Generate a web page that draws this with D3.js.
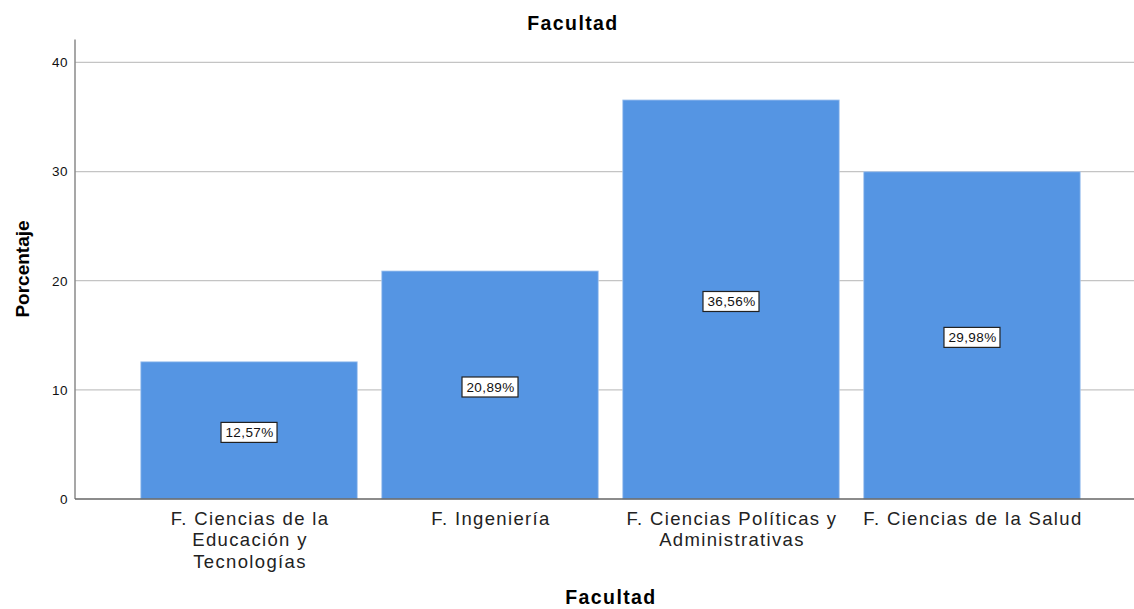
<!DOCTYPE html>
<html>
<head>
<meta charset="utf-8">
<script src="https://cdn.jsdelivr.net/npm/d3@7"></script>
<style>
  body { margin: 0; background: #fff; }
  svg text { font-family: "Liberation Sans", Arial, sans-serif; }
</style>
</head>
<body>
<svg id="chart" width="1134" height="609"></svg>
<script>
let categories = ["F. Ciencias de la Educación y Tecnologías", "F. Ingeniería", "F. Ciencias Políticas y Administrativas", "F. Ciencias de la Salud"]
let labelLines = [["F. Ciencias de la", "Educación y", "Tecnologías"], ["F. Ingeniería"], ["F. Ciencias Políticas y", "Administrativas"], ["F. Ciencias de la Salud"]]
let percents = [12.57, 20.89, 36.56, 29.98]
let yTicks = [0, 10, 20, 30, 40]

let svg = d3.select("#chart")
let plotLeft = 75, plotBottom = 499, plotTop = 39.5

let x = d3.scaleBand()
    .domain(categories)
    .range([plotLeft, 1146])
    .paddingInner(0.1017)
    .paddingOuter(0.273)

let y = d3.scaleLinear()
    .domain([0, 42.1])
    .range([plotBottom, plotTop])

// grid lines
svg.append("g").selectAll("line")
    .data(yTicks.filter(d => d > 0))
    .enter().append("line")
    .attr("x1", plotLeft).attr("x2", 1134)
    .attr("y1", d => y(d)).attr("y2", d => y(d))
    .attr("stroke", "#c4c4c4")
    .attr("stroke-width", 1.2)

// bars
svg.append("g").selectAll("rect")
    .data(percents)
    .enter().append("rect")
    .attr("x", (d, i) => x(categories[i]))
    .attr("width", x.bandwidth())
    .attr("y", d => y(d))
    .attr("height", d => plotBottom - y(d))
    .attr("fill", "#5595e3")
    .attr("stroke", "#a9c8f0")
    .attr("stroke-width", 0.8)

// y axis, no outer tick marks
let yAxis = d3.axisLeft(y).tickValues(yTicks).tickSize(0).tickPadding(7)
let ya = svg.append("g").attr("transform", `translate(${plotLeft},0)`).call(yAxis)
ya.select(".domain").remove()
ya.selectAll(".tick text")
    .attr("font-size", 13.5)
    .attr("letter-spacing", 0.5)
    .attr("fill", "#111")
    .attr("font-family", "Liberation Sans, Arial, sans-serif")
svg.append("line")
    .attr("x1", plotLeft).attr("x2", plotLeft)
    .attr("y1", plotTop).attr("y2", plotBottom)
    .attr("stroke", "#8a8a8a").attr("stroke-width", 1.5)

// baseline
svg.append("line")
    .attr("x1", plotLeft).attr("x2", 1134)
    .attr("y1", plotBottom).attr("y2", plotBottom)
    .attr("stroke", "#666").attr("stroke-width", 1.3)

// category labels
let cats = svg.append("g").selectAll("text")
    .data(categories)
    .enter().append("text")
    .attr("text-anchor", "middle")
    .attr("font-size", 18.5)
    .attr("fill", "#222")
    .attr("letter-spacing", 1.35)
    .attr("y", 525)
cats.each(function (d, i) {
    let t = d3.select(this)
    labelLines[i].forEach((line, j) => {
        t.append("tspan")
            .attr("x", x(d) + x.bandwidth() / 2 + 1)
            .attr("dy", j == 0 ? 0 : 21.3)
            .text(line)
    })
})

// value labels
let lab = svg.append("g").selectAll("g")
    .data(percents)
    .enter().append("g")
    .attr("transform", (d, i) => `translate(${x(categories[i]) + x.bandwidth() / 2},${(y(d) + plotBottom) / 2 + 2})`)
lab.append("rect")
    .attr("x", -28).attr("y", -10)
    .attr("width", 56).attr("height", 20)
    .attr("fill", "#fff")
    .attr("stroke", "#222").attr("stroke-width", 1.2)
lab.append("text")
    .attr("text-anchor", "middle")
    .attr("x", 0.5)
    .attr("dy", "0.36em")
    .attr("font-size", 13.5)
    .attr("letter-spacing", 0.4)
    .attr("fill", "#111")
    .text(d => d.toFixed(2).replace(".", ",") + "%")

// titles
svg.append("text")
    .attr("x", 573).attr("y", 30)
    .attr("text-anchor", "middle")
    .attr("font-size", 19.5).attr("font-weight", "bold")
    .attr("letter-spacing", 1.4)
    .text("Facultad")
svg.append("text")
    .attr("x", 611).attr("y", 604)
    .attr("text-anchor", "middle")
    .attr("font-size", 19.5).attr("font-weight", "bold")
    .attr("letter-spacing", 1.4)
    .text("Facultad")
svg.append("text")
    .attr("transform", "translate(28.5,269) rotate(-90)")
    .attr("text-anchor", "middle")
    .attr("font-size", 19).attr("font-weight", "bold")
    .text("Porcentaje")
</script>
</body>
</html>
